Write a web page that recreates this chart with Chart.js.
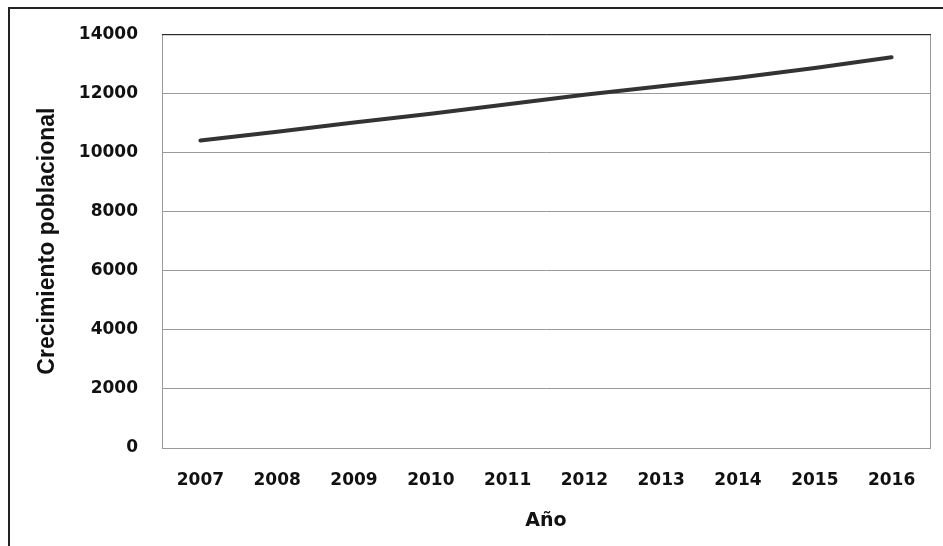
<!DOCTYPE html>
<html>
<head>
<meta charset="utf-8">
<script src="https://cdn.jsdelivr.net/npm/chart.js@4"></script>
<style>
  html, body { margin: 0; padding: 0; background: #fff; }
  #wrap { width: 943px; height: 546px; position: relative; }
</style>
</head>
<body>
<div id="wrap"><canvas id="lineChart"></canvas></div>
<script>
// Data
const years = ['2007', '2008', '2009', '2010', '2011', '2012', '2013', '2014', '2015', '2016'];
const population = [10400, 10700, 11010, 11310, 11630, 11950, 12240, 12530, 12860, 13220];
const yTicks = [0, 2000, 4000, 6000, 8000, 10000, 12000, 14000];

// Frame around the picture and the plot area box
const framePlugin = {
    id: 'frame',
    beforeDatasetsDraw(chart) {
        const { ctx, chartArea: a } = chart;
        ctx.save();
        ctx.strokeStyle = '#9a9a9a';
        ctx.lineWidth = 1;
        ctx.beginPath();
        ctx.moveTo(a.right + 0.5, a.top);
        ctx.lineTo(a.right + 0.5, a.bottom);
        ctx.stroke();
        ctx.strokeStyle = '#111';
        ctx.beginPath();
        ctx.moveTo(a.left, a.top + 0.5);
        ctx.lineTo(a.right + 1, a.top + 0.5);
        ctx.stroke();
        ctx.restore();
    },
    afterDraw(chart) {
        const ctx = chart.ctx;
        ctx.save();
        ctx.strokeStyle = '#222';
        ctx.lineWidth = 2;
        ctx.beginPath();
        ctx.moveTo(9, chart.height);
        ctx.lineTo(9, 8);
        ctx.lineTo(chart.width, 8);
        ctx.stroke();
        ctx.restore();
    }
};

const ctx = document.getElementById('lineChart').getContext('2d');
new Chart(ctx, {
    type: 'line',
    data: {
        labels: years,
        datasets: [{
            label: 'Crecimiento poblacional',
            data: population,
            borderColor: '#333333',
            borderWidth: 4,
            borderCapStyle: 'round',
            pointRadius: 0,
            tension: 0,
            fill: false,
        }]
    },
    options: {
        responsive: true,
        maintainAspectRatio: false,
        animation: false,
        layout: { padding: { left: 10, right: 13, top: 33, bottom: 0 } },
        plugins: {
            legend: { display: false },
            tooltip: { enabled: false },
        },
        scales: {
            x: {
                offset: true,
                grid: { display: false, drawTicks: false },
                border: { display: true, color: '#9a9a9a', width: 1 },
                ticks: {
                    padding: 22,
                    color: '#111',
                    font: { family: 'DejaVu Sans', weight: 'bold', size: 17 },
                    maxRotation: 0,
                },
                title: {
                    display: true,
                    text: 'Año',
                    color: '#111',
                    font: { family: 'DejaVu Sans', weight: 'bold', size: 19 },
                    padding: { top: 0, bottom: 14 },
                },
                afterFit(scale) { scale.height = 98; },
            },
            y: {
                min: 0,
                max: 14000,
                afterBuildTicks(scale) { scale.ticks = yTicks.map(v => ({ value: v })); },
                grid: { color: '#9a9a9a', lineWidth: 1, drawTicks: false },
                border: { display: true, color: '#9a9a9a', width: 1 },
                ticks: {
                    padding: 24,
                    color: '#111',
                    font: { family: 'DejaVu Sans', weight: 'bold', size: 17 },
                    callback: (v) => String(v),
                },
                title: {
                    display: true,
                    text: 'Crecimiento poblacional',
                    color: '#111',
                    font: { family: 'Liberation Sans', weight: 'bold', size: 23 },
                    padding: { top: 24, bottom: 0 },
                },
                afterFit(scale) { scale.width = 152; },
            }
        }
    },
    plugins: [framePlugin]
});
</script>
</body>
</html>
